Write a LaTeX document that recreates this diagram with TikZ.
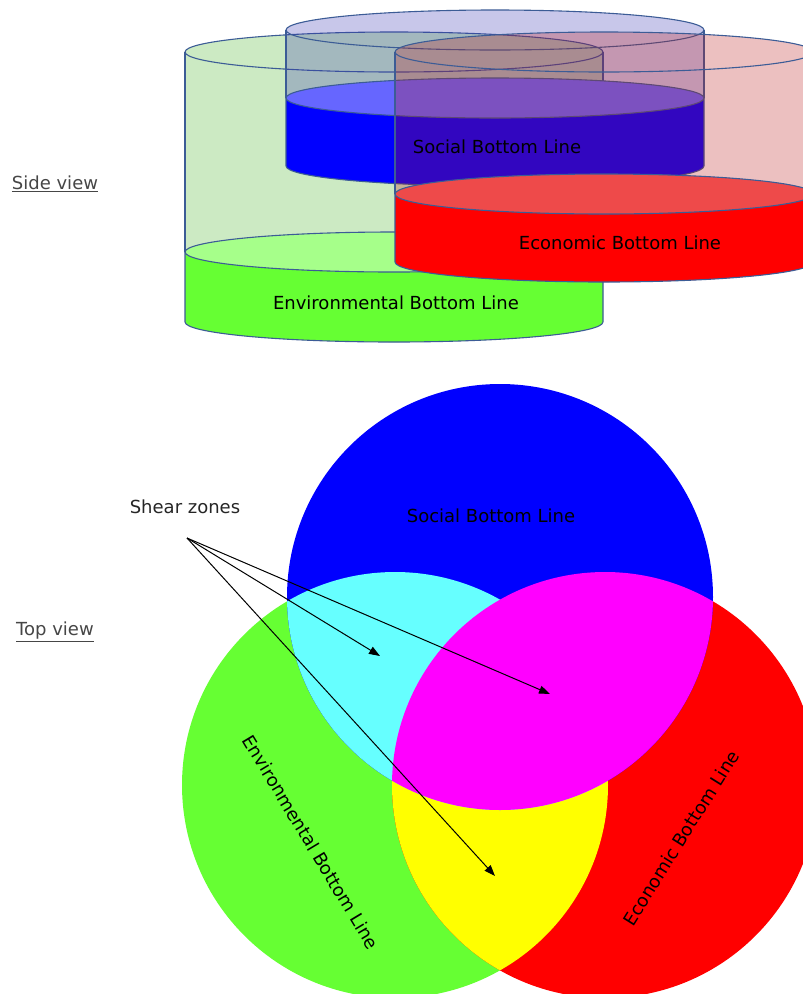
\documentclass[tikz,border=0pt]{standalone}
\usepackage{fontspec}
\setmainfont{DejaVu Sans}
\usetikzlibrary{arrows.meta}

% outlines and glass tints of the stacked tanks
\definecolor{rim}{RGB}{60,92,150}
\definecolor{envglass}{RGB}{68,180,36}
\definecolor{socglass}{RGB}{55,51,180}
\definecolor{ecoglass}{RGB}{186,25,25}
% liquid bodies and their surfaces
\definecolor{envfill}{RGB}{102,255,51}
\definecolor{envcap}{RGB}{166,255,138}
\definecolor{socfill}{RGB}{0,0,255}
\definecolor{soccap}{RGB}{102,102,255}
\definecolor{ecofill}{RGB}{255,0,0}
\definecolor{ecocap}{RGB}{238,74,74}
% overlaps in the plan view
\definecolor{zonecyan}{RGB}{102,255,255}
\definecolor{zoneyellow}{RGB}{255,255,0}
\definecolor{zonemagenta}{RGB}{255,0,255}
\definecolor{viewgrey}{RGB}{70,70,70}

% one tank: #1 centre x, #2 rim y, #3 liquid level y, #4 base y,
% #5 glass colour, #6 liquid colour, #7 liquid surface colour
\newcommand\tank[7]{%
  \fill[#5, fill opacity=0.27]
    (#1-209,-#2) arc[start angle=180,end angle=0,x radius=209,y radius=20]
    -- (#1+209,-#3) arc[start angle=0,end angle=-180,x radius=209,y radius=20]
    -- cycle;
  \draw[rimline] (#1,-#2) ellipse[x radius=209,y radius=20];
  \draw[rimline] (#1-209,-#2) -- (#1-209,-#3) (#1+209,-#2) -- (#1+209,-#3);
  \fill[#6] (#1-209,-#3) -- (#1-209,-#4)
    arc[start angle=180,end angle=360,x radius=209,y radius=20]
    -- (#1+209,-#3) -- cycle;
  \draw[rimline] (#1-209,-#3) -- (#1-209,-#4)
    arc[start angle=180,end angle=360,x radius=209,y radius=20]
    -- (#1+209,-#3);
  \filldraw[rimline, fill=#7] (#1,-#3) ellipse[x radius=209,y radius=20];
}

\tikzset{
  rimline/.style={draw=rim, line width=1.1pt},
  lbl/.style={font=\fontsize{18}{22}\selectfont, inner sep=0pt, text=black},
  viewlbl/.style={font=\fontsize{18}{22}\selectfont, inner sep=0pt, text=viewgrey},
  pointer/.style={draw=black, line width=1pt, -{Triangle[length=11pt,width=8pt]}},
}

\begin{document}
\begin{tikzpicture}[x=1pt,y=1pt]
\useasboundingbox (0,0) rectangle (803,-994);
\clip (0,0) rectangle (803,-994);
\fill[white] (0,0) rectangle (803,-994);

% ---- side view: three partly filled tanks ----
\tank{394}{52}{252}{322}{envglass}{envfill}{envcap}
\tank{495}{30}{98}{166}{socglass}{socfill}{soccap}
\tank{604}{52}{194}{262}{ecoglass}{ecofill}{ecocap}

\node[lbl] (sideSoc) at (497,-147) {Social Bottom Line};
\node[lbl] (sideEco) at (620,-243) {Economic Bottom Line};
\node[lbl] (sideEnv) at (396,-303) {Environmental Bottom Line};
\node[viewlbl] (sideView) at (55,-184) {\underline{Side view}};

% ---- top view: three overlapping discs ----
\fill[envfill] (395,-785) circle[radius=213];
\fill[ecofill] (605,-785) circle[radius=213];
\fill[socfill] (500,-597) circle[radius=213];
\begin{scope}
  \clip (395,-785) circle[radius=213];
  \fill[zoneyellow] (605,-785) circle[radius=213];
\end{scope}
\begin{scope}
  \clip (500,-597) circle[radius=213];
  \fill[zonecyan] (395,-785) circle[radius=213];
  \fill[zonemagenta] (605,-785) circle[radius=213];
\end{scope}

\node[lbl] (topSoc) at (491,-516) {Social Bottom Line};
\node[lbl, rotate=-59] (topEnv) at (311,-842) {Environmental Bottom Line};
\node[lbl, rotate=58] (topEco) at (681,-838) {Economic Bottom Line};
\node[viewlbl] (topView) at (55,-632) {\underline{Top view}};

% ---- shear zone pointers ----
\node[lbl, text=black!85] (shear) at (185,-507) {Shear zones};
\coordinate (shearFoot) at (187,-538);
\coordinate (zoneCyan) at (380,-656);
\coordinate (zoneMagenta) at (550,-694);
\coordinate (zoneYellow) at (495,-876);
\draw[pointer] (shearFoot) -- (zoneCyan);
\draw[pointer] (shearFoot) -- (zoneMagenta);
\draw[pointer] (shearFoot) -- (zoneYellow);
\end{tikzpicture}
\end{document}
